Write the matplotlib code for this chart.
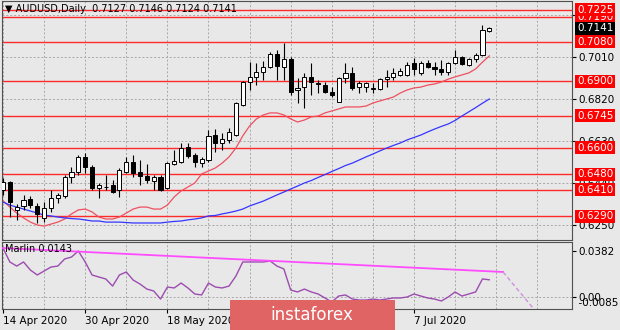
import matplotlib
matplotlib.use('Agg')
import matplotlib.pyplot as plt
import matplotlib.transforms as mtransforms
from matplotlib.patches import Rectangle
import numpy as np

# daily AUDUSD bars, 14 Apr 2020 .. 22 Jul 2020
opens = [0.6408, 0.6444, 0.6318, 0.6336, 0.6368, 0.6336, 0.6282, 0.6327, 0.6372, 0.6381,
         0.6467, 0.6490, 0.6558, 0.6512, 0.6417, 0.6422, 0.6431, 0.6408, 0.6490, 0.6535,
         0.6490, 0.6472, 0.6449, 0.6467, 0.6417, 0.6526, 0.6535, 0.6603, 0.6567, 0.6530,
         0.6544, 0.6657, 0.6621, 0.6634, 0.6657, 0.6793, 0.6897, 0.6920, 0.6942, 0.6965,
         0.7024, 0.6965, 0.7001, 0.6861, 0.6874, 0.6920, 0.6892, 0.6883, 0.6852, 0.6806,
         0.6915, 0.6938, 0.6874, 0.6874, 0.6865, 0.6865, 0.6911, 0.6920, 0.6929, 0.6929,
         0.6983, 0.6938, 0.6983, 0.6965, 0.6956, 0.6942, 0.6983, 0.7010, 0.6974, 0.7001,
         0.7019, 0.7127]
highs = [0.6463, 0.6449, 0.6345, 0.6386, 0.6381, 0.6349, 0.6354, 0.6408, 0.6395, 0.6476,
         0.6512, 0.6567, 0.6576, 0.6521, 0.6440, 0.6476, 0.6454, 0.6508, 0.6558, 0.6567,
         0.6544, 0.6526, 0.6476, 0.6476, 0.6535, 0.6589, 0.6621, 0.6621, 0.6576, 0.6558,
         0.6680, 0.6684, 0.6666, 0.6689, 0.6806, 0.6901, 0.6987, 0.6983, 0.6992, 0.7033,
         0.7042, 0.7073, 0.7010, 0.6915, 0.6938, 0.6983, 0.6906, 0.6897, 0.6874, 0.6920,
         0.6983, 0.6965, 0.6901, 0.6897, 0.6892, 0.6915, 0.6951, 0.6960, 0.6960, 0.6987,
         0.7006, 0.6992, 0.6997, 0.6987, 0.6997, 0.6987, 0.7042, 0.7015, 0.7006, 0.7028,
         0.7155, 0.7146]
lows = [0.6386, 0.6286, 0.6273, 0.6318, 0.6327, 0.6259, 0.6264, 0.6309, 0.6349, 0.6372,
        0.6440, 0.6476, 0.6485, 0.6408, 0.6372, 0.6408, 0.6395, 0.6377, 0.6485, 0.6467,
        0.6431, 0.6440, 0.6408, 0.6404, 0.6413, 0.6521, 0.6530, 0.6553, 0.6512, 0.6512,
        0.6535, 0.6580, 0.6589, 0.6621, 0.6653, 0.6788, 0.6861, 0.6883, 0.6906, 0.6960,
        0.6906, 0.6906, 0.6838, 0.6802, 0.6779, 0.6838, 0.6847, 0.6847, 0.6829, 0.6806,
        0.6892, 0.6861, 0.6847, 0.6852, 0.6847, 0.6861, 0.6874, 0.6906, 0.6924, 0.6924,
        0.6929, 0.6929, 0.6960, 0.6929, 0.6929, 0.6929, 0.6978, 0.6974, 0.6969, 0.6987,
        0.7015, 0.7124]
closes = [0.6444, 0.6354, 0.6331, 0.6363, 0.6340, 0.6300, 0.6327, 0.6372, 0.6386, 0.6467,
          0.6490, 0.6558, 0.6512, 0.6417, 0.6431, 0.6420, 0.6399, 0.6499, 0.6535, 0.6485,
          0.6472, 0.6454, 0.6467, 0.6408, 0.6530, 0.6539, 0.6598, 0.6562, 0.6535, 0.6549,
          0.6653, 0.6621, 0.6639, 0.6671, 0.6802, 0.6897, 0.6920, 0.6942, 0.6965, 0.7024,
          0.6969, 0.7001, 0.6852, 0.6870, 0.6920, 0.6897, 0.6888, 0.6852, 0.6838, 0.6915,
          0.6938, 0.6870, 0.6892, 0.6892, 0.6870, 0.6911, 0.6920, 0.6938, 0.6947, 0.6974,
          0.6956, 0.6983, 0.6965, 0.6956, 0.6942, 0.6983, 0.7010, 0.6978, 0.7001, 0.7019,
          0.7132, 0.7141]

# moving averages
ma_fast = [0.6359, 0.6331, 0.6304, 0.6282, 0.6263, 0.6250, 0.6245, 0.6254, 0.6263, 0.6277,
           0.6300, 0.6318, 0.6322, 0.6309, 0.6286, 0.6277, 0.6277, 0.6286, 0.6304, 0.6322,
           0.6331, 0.6331, 0.6322, 0.6322, 0.6340, 0.6377, 0.6404, 0.6422, 0.6440, 0.6481,
           0.6494, 0.6508, 0.6530, 0.6558, 0.6598, 0.6653, 0.6698, 0.6730, 0.6748, 0.6757,
           0.6757, 0.6748, 0.6730, 0.6716, 0.6725, 0.6739, 0.6743, 0.6757, 0.6766, 0.6775,
           0.6784, 0.6784, 0.6784, 0.6788, 0.6802, 0.6811, 0.6820, 0.6829, 0.6847, 0.6861,
           0.6870, 0.6874, 0.6883, 0.6888, 0.6897, 0.6910, 0.6920, 0.6929, 0.6938, 0.6956,
           0.6987, 0.7015]
ma_slow = [0.6354, 0.6340, 0.6331, 0.6322, 0.6313, 0.6304, 0.6295, 0.6291, 0.6286, 0.6282,
           0.6279, 0.6277, 0.6273, 0.6268, 0.6268, 0.6263, 0.6263, 0.6263, 0.6261, 0.6259,
           0.6259, 0.6259, 0.6259, 0.6259, 0.6263, 0.6266, 0.6268, 0.6273, 0.6277, 0.6282,
           0.6291, 0.6293, 0.6300, 0.6306, 0.6313, 0.6322, 0.6336, 0.6347, 0.6358, 0.6372,
           0.6386, 0.6399, 0.6413, 0.6426, 0.6440, 0.6451, 0.6465, 0.6478, 0.6492, 0.6505,
           0.6519, 0.6530, 0.6544, 0.6558, 0.6571, 0.6585, 0.6598, 0.6610, 0.6621, 0.6635,
           0.6646, 0.6657, 0.6671, 0.6684, 0.6696, 0.6707, 0.6723, 0.6743, 0.6762, 0.6781,
           0.6801, 0.6820]

# Marlin oscillator
marlin = [0.0407, 0.0291, 0.0257, 0.0291, 0.0224, 0.0183, 0.0216, 0.0249, 0.0257, 0.0316,
          0.0332, 0.0382, 0.0291, 0.0183, 0.0166, 0.0150, 0.0091, 0.0183, 0.0208, 0.0141,
          0.0108, 0.0066, 0.0050, -0.0017, 0.0083, 0.0075, 0.0116, 0.0075, 0.0025, 0.0017,
          0.0116, 0.0083, 0.0075, 0.0091, 0.0174, 0.0291, 0.0291, 0.0291, 0.0291, 0.0299,
          0.0257, 0.0233, 0.0058, 0.0042, 0.0066, 0.0042, 0.0025, -0.0008, -0.0042, 0.0008,
          0.0017, -0.0017, -0.0025, -0.0025, -0.0017, -0.0025, -0.0017, -0.0008, -0.0008, 0.0000,
          0.0025, 0.0008, -0.0008, -0.0017, -0.0033, 0.0000, 0.0042, 0.0008, 0.0025, 0.0042,
          0.0150, 0.0143]
trend_x = [0, 73]
trend_v = [0.0407, 0.0208]
proj_x = [73, 77.5]
proj_v = [0.0208, -0.0100]

levels = [0.7225, 0.7190, 0.7080, 0.6900, 0.6745, 0.6600, 0.6480, 0.6410, 0.6290]
price_ticks = [0.6250, 0.6440, 0.6630, 0.6820, 0.7010, 0.7200]
# the two June labels sit under the watermark in the original, so only these show
date_idx = [0, 12, 24, 60]
date_labels = ['14 Apr 2020', '30 Apr 2020', '18 May 2020', '7 Jul 2020']

BG = '#e8e8e8'
GRID = '#a8a8a8'
W, H = 620, 330

fig = plt.figure(figsize=(W / 100, H / 100), dpi=100, facecolor=BG)


def px_axes(x0, y0, x1, y1):
    return fig.add_axes([x0 / W, 1 - y1 / H, (x1 - x0) / W, (y1 - y0) / H])


ax = px_axes(2, 1, 572, 240)
ax2 = px_axes(2, 242, 572, 309)

o = np.array(opens)
h = np.array(highs)
l = np.array(lows)
c = np.array(closes)
idx = np.arange(len(o))
up = c >= o

for a in (ax, ax2):
    a.set_facecolor(BG)
    a.set_xlim(-0.146, 83.07)
    for s in a.spines.values():
        s.set_color('#505050')
        s.set_linewidth(0.8)
    for g in range(0, 84, 6):
        a.axvline(g, color=GRID, ls=(0, (2, 2)), lw=0.7, zorder=1)

ax.set_ylim(0.6182, 0.72635)
for t in price_ticks:
    ax.axhline(t, color=GRID, ls=(0, (2, 2)), lw=0.7, zorder=1)

for lv in levels:
    ax.axhline(lv, color='#ff2a2a', lw=1.0, zorder=2)

ax.plot(idx, ma_fast, color='#ee5060', lw=0.9, zorder=2.5)
ax.plot(idx, ma_slow, color='#3535ff', lw=0.9, zorder=2.5)

# candles
ax.vlines(idx, l, h, color='black', lw=0.8, zorder=3)
body_low = np.minimum(o, c)
body_h = np.maximum(np.abs(c - o), 0.00012)
ax.bar(idx[up], body_h[up], bottom=body_low[up], width=0.6,
       facecolor='white', edgecolor='black', lw=0.7, zorder=4)
ax.bar(idx[~up], body_h[~up], bottom=body_low[~up], width=0.6,
       facecolor='black', edgecolor='black', lw=0.7, zorder=4)

ax.set_xticks([])
ax.yaxis.tick_right()
ax.set_yticks(price_ticks)
ax.set_yticklabels(['%.4f' % t for t in price_ticks])
ax.tick_params(axis='y', length=3, width=0.8, pad=1.5, labelsize=7.5, colors='black')

trans = mtransforms.blended_transform_factory(fig.transFigure, ax.transData)
for k, lv in enumerate(sorted(levels)):
    ax.text(577 / W, lv, '%.4f' % lv, transform=trans, color='white', fontsize=7.5,
            va='center', ha='left', clip_on=False, zorder=10 + k,
            bbox=dict(boxstyle='square,pad=0.15', fc='#ff0000', ec='none'))
ax.text(577 / W, closes[-1], '%.4f' % closes[-1], transform=trans, color='white',
        fontsize=7.5, va='center', ha='left', clip_on=False, zorder=30,
        bbox=dict(boxstyle='square,pad=0.15', fc='black', ec='none'))

ax.text(0.006, 0.966, u'\u25bc AUDUSD,Daily  %.4f %.4f %.4f %.4f'
        % (opens[-1], highs[-1], lows[-1], closes[-1]),
        transform=ax.transAxes, fontsize=7, va='center', ha='left', zorder=40)

# indicator window
ax2.set_ylim(-0.00997, 0.0457)
ax2.axhline(0, color=GRID, ls=(0, (2, 2)), lw=0.7, zorder=1)
ax2.plot(idx, marlin, color='#9c4cb0', lw=1.0, zorder=3)
ax2.plot(trend_x, trend_v, color='#ff4cff', lw=1.3, zorder=4)
ax2.plot(proj_x, proj_v, color='#cf8fe0', lw=1.0, ls=(0, (3, 2)), zorder=4, clip_on=True)
ax2.text(0.006, 0.895, 'Marlin %.4f' % marlin[-1], transform=ax2.transAxes,
         fontsize=7, va='center', ha='left', zorder=10)

ax2.yaxis.tick_right()
ax2.set_yticks([0.0382, 0.0])
ax2.set_yticklabels(['0.0382', '0.00'])
ax2.tick_params(axis='y', length=3, width=0.8, pad=1.5, labelsize=7.5, colors='black')
ax2.text(1.0, 0.09, '  -0.0085', transform=ax2.transAxes, fontsize=7.5,
         va='center', ha='left', clip_on=False)

ax2.set_xticks(date_idx)
ax2.set_xticklabels(date_labels)
ax2.tick_params(axis='x', length=3, width=0.8, pad=2, labelsize=7.5, colors='black')
plt.setp(ax2.get_xticklabels(), ha='left')

# watermark
fig.patches.append(Rectangle((230 / W, 0), 165 / W, 30 / H, transform=fig.transFigure,
                             fc='#e06464', ec='none', zorder=20))
fig.text(312 / W, 1 - 315 / H, 'instaforex', color='white', fontsize=12,
         ha='center', va='center', zorder=21)

fig.savefig('out.png', dpi=100, facecolor=BG)
